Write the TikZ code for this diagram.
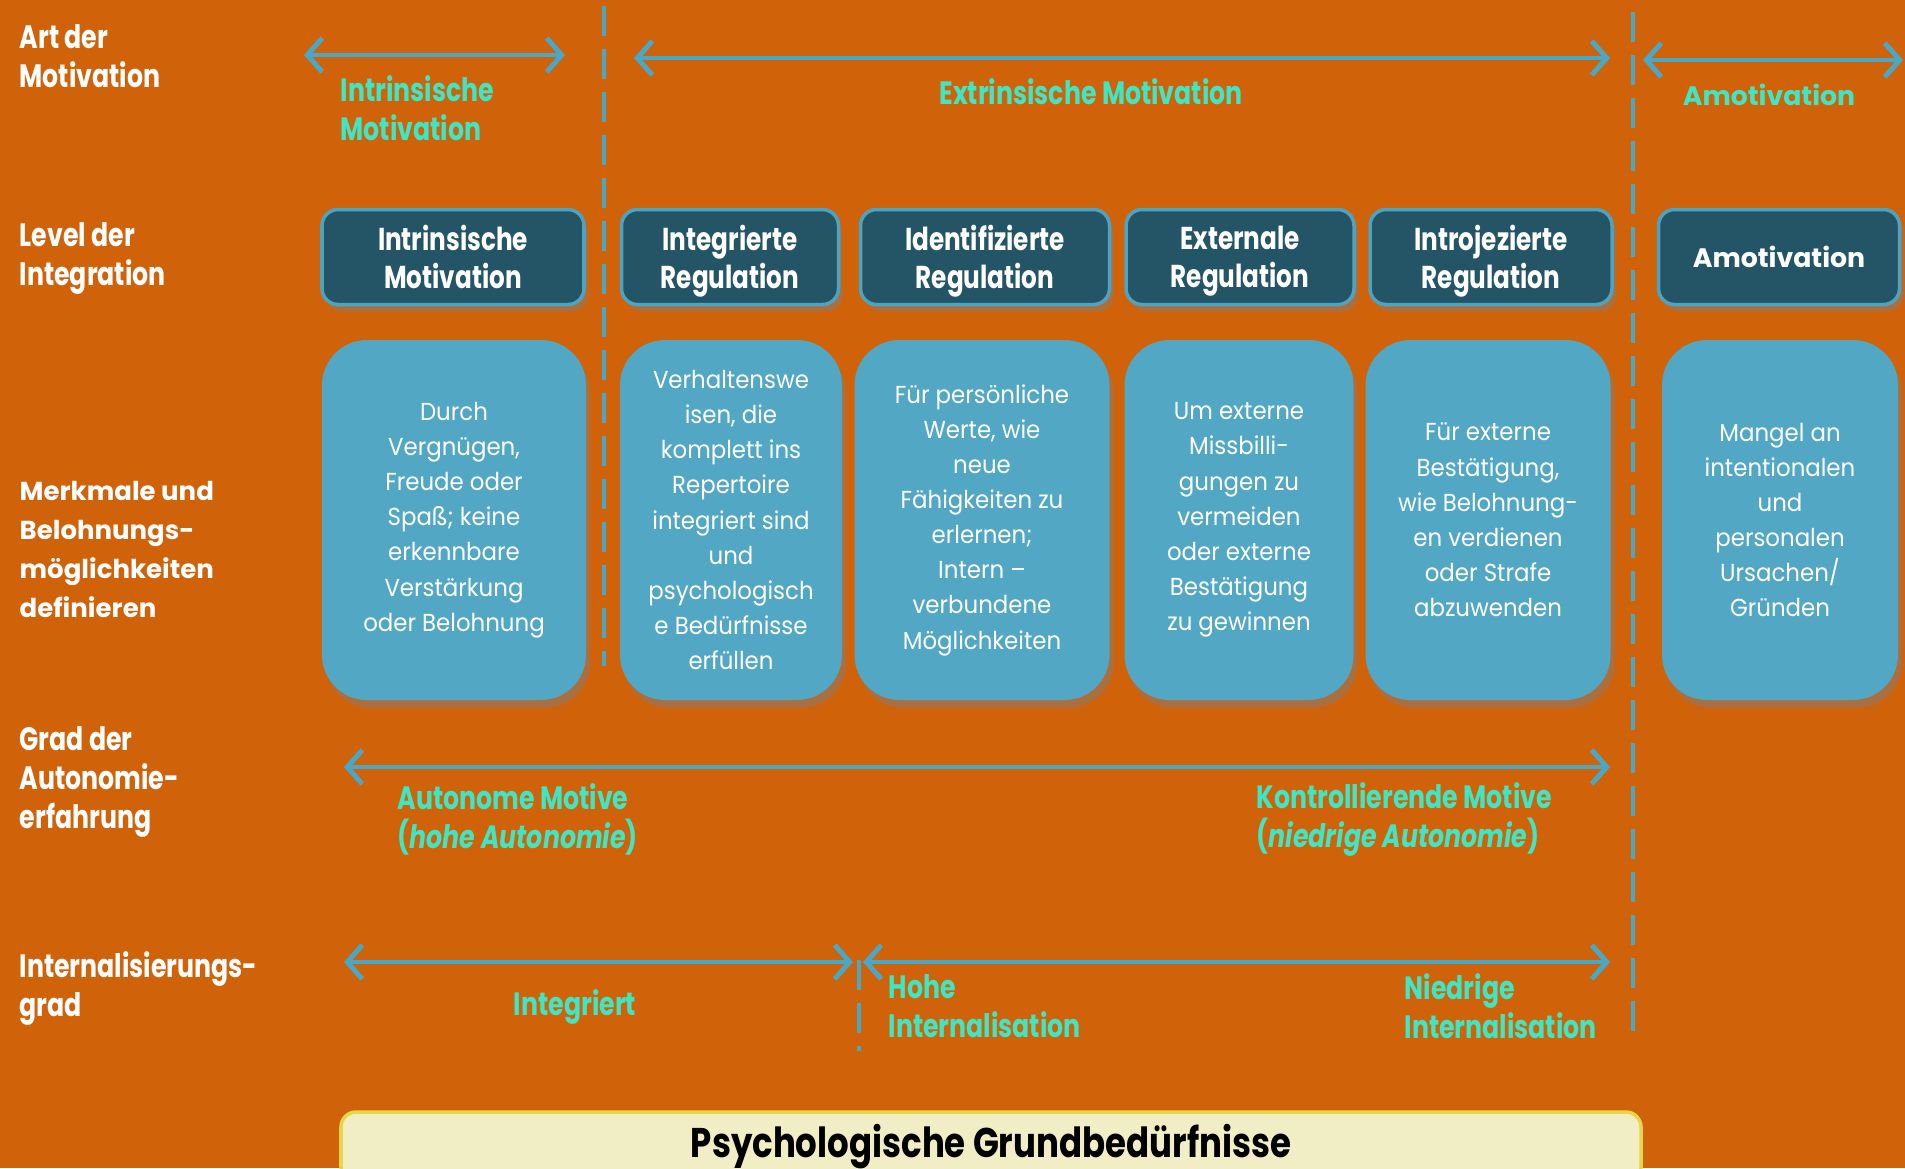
\documentclass[tikz,border=0pt]{standalone}
\usepackage{fontspec}
\setmainfont{Poppins}
\newfontfamily\condfont[FakeStretch=0.78]{Poppins}
\newfontfamily\titlefont[FakeStretch=0.82]{Poppins}
\newfontfamily\cardfont[FakeStretch=0.93]{Poppins}
\usetikzlibrary{arrows.meta,positioning,shadows}
\definecolor{bgorange}{HTML}{D0620A}
\definecolor{darkbox}{HTML}{245566}
\definecolor{boxedge}{HTML}{4DA3C0}
\definecolor{cardblue}{HTML}{52A7C4}
\definecolor{arrowc}{HTML}{4AA8C7}
\definecolor{grnc}{HTML}{3EE6C4}
\definecolor{cream}{HTML}{F1EDC4}
\definecolor{creamedge}{HTML}{E6D64C}

\begin{document}
\begin{tikzpicture}[x=1cm,y=1cm,font=\small,>={Straight Barb[length=1.5mm,width=3.4mm]},
  rowlbl/.style={anchor=west,align=left,inner sep=0pt,text=white,
    font=\condfont\bfseries\fontsize{9.2}{11.1}\selectfont},
  grn/.style={inner sep=0pt,text=grnc,align=left,
    font=\condfont\bfseries\fontsize{9.2}{11.1}\selectfont},
  lvl/.style={draw=boxedge,line width=1pt,fill=darkbox,rounded corners=1.6mm,
    text=white,align=center,minimum height=0.95cm,inner sep=0pt,
    drop shadow={shadow xshift=0.4mm,shadow yshift=-0.7mm,opacity=0.45},
    font=\condfont\bfseries\fontsize{9}{10.8}\selectfont},
  card/.style={fill=cardblue,rounded corners=4.5mm,text=white,align=center,
    minimum height=3.6cm,inner sep=0pt,
    drop shadow={shadow xshift=0.4mm,shadow yshift=-0.8mm,opacity=0.45},
    font=\cardfont\fontsize{7}{10}\selectfont},
  spanarrow/.style={<->,draw=arrowc,line width=1.4pt},
  divider/.style={draw=arrowc,line width=0.9pt,dash pattern=on 3mm off 1.3mm}]
 \fill[bgorange] (0,0) rectangle (19.05,-11.68);
 \clip (0,0) rectangle (19.05,-11.68);

 % left column
 \node[rowlbl] (art) at (0.19,-0.56) {Art der\\Motivation};
 \node[rowlbl] (level) at (0.19,-2.58) {Level der\\Integration};
 \node[rowlbl,font=\bfseries\fontsize{7.4}{11.1}\selectfont] (merk) at (0.19,-5.49)
   {Merkmale und\\Belohnungs-\\möglichkeiten\\definieren};
 \node[rowlbl] (grad) at (0.19,-7.82) {Grad der\\Autonomie-\\erfahrung};
 \node[rowlbl] (intgrad) at (0.19,-9.88) {Internalisierungs-\\grad};

 % dividers
 \coordinate (d1a) at (6.04,-0.06);
 \coordinate (d1b) at (6.04,-6.66);
 \coordinate (d2a) at (16.33,-0.12);
 \coordinate (d2b) at (16.33,-10.39);
 \coordinate (d3a) at (8.59,-9.60);
 \coordinate (d3b) at (8.59,-10.51);
 \draw[divider] (d1a)--(d1b);
 \draw[divider] (d2a)--(d2b);
 \draw[divider] (d3a)--(d3b);

 % art der motivation
 \coordinate (intL) at (3.04,-0.55);
 \coordinate (intR) at (5.65,-0.55);
 \coordinate (extL) at (6.34,-0.58);
 \coordinate (extR) at (16.10,-0.58);
 \coordinate (amoL) at (16.43,-0.60);
 \coordinate (amoR) at (19.03,-0.60);
 \draw[spanarrow] (intL)--(intR);
 \draw[spanarrow] (extL)--(extR);
 \draw[spanarrow] (amoL)--(amoR);
 \node[grn,anchor=west] (intlbl) at (3.40,-1.08) {Intrinsische\\Motivation};
 \node[grn] (extlbl) at (10.91,-0.92) {Extrinsische Motivation};
 \node[grn,font=\bfseries\fontsize{7.6}{10}\selectfont] (amolbl) at (17.69,-0.95) {Amotivation};

 % level der integration
 \foreach \nm/\cx/\w/\ta/\tb in {h1/4.53/2.62/Intrinsische/Motivation,
     h2/7.30/2.17/Integrierte/Regulation,
     h3/9.85/2.49/Identifizierte/Regulation,
     h4/12.40/2.28/Externale/Regulation,
     h5/14.91/2.42/Introjezierte/Regulation}
   \node[lvl,minimum width=\w cm] (\nm) at (\cx,-2.57)
     {\ta\\\raisebox{0pt}[\height][0pt]{\tb}};
 \node[lvl,minimum width=2.41cm,font=\bfseries\fontsize{7.6}{10}\selectfont] (h6) at (17.79,-2.57) {Amotivation};

 % merkmale
 \foreach \nm/\cx/\w/\txt in {c1/4.54/2.64/{Durch\\Vergnügen,\\Freude oder\\Spaß; keine\\erkennbare\\Verstärkung\\oder Belohnung},
     c2/7.31/2.22/{Verhaltenswe\\isen, die\\komplett ins\\Repertoire\\integriert sind\\und\\psychologisch\\e Bedürfnisse\\erfüllen},
     c3/9.82/2.55/{Für persönliche\\Werte, wie\\neue\\Fähigkeiten zu\\erlernen;\\Intern –\\verbundene\\Möglichkeiten},
     c4/12.39/2.29/{Um externe\\Missbilli-\\gungen zu\\vermeiden\\oder externe\\Bestätigung\\zu gewinnen},
     c5/14.88/2.45/{Für externe\\Bestätigung,\\wie Belohnung-\\en verdienen\\oder Strafe\\abzuwenden},
     c6/17.80/2.36/{Mangel an\\intentionalen\\und\\personalen\\Ursachen/\\Gründen}}
   \node[card,minimum width=\w cm] (\nm) at (\cx,-5.20) {\txt};

 % autonomie
 \coordinate (autL) at (3.44,-7.67);
 \coordinate (autR) at (16.10,-7.67);
 \draw[spanarrow] (autL)--(autR);
 \node[grn,anchor=west] (autlbl) at (3.97,-8.19) {Autonome Motive\\(\textit{hohe Autonomie})};
 \node[grn,anchor=west] (kontlbl) at (12.56,-8.19) {Kontrollierende Motive\\(\textit{niedrige Autonomie})};

 % internalisierung
 \coordinate (inaL) at (3.44,-9.62);
 \coordinate (inaR) at (8.53,-9.62);
 \coordinate (inbL) at (8.63,-9.62);
 \coordinate (inbR) at (16.10,-9.62);
 \draw[spanarrow] (inaL)--(inaR);
 \draw[spanarrow] (inbL)--(inbR);
 \node[grn] (integlbl) at (5.75,-10.07) {Integriert};
 \node[grn,anchor=west] (hohelbl) at (8.88,-10.06) {Hohe\\Internalisation};
 \node[grn,anchor=west] (niedlbl) at (14.04,-10.06) {Niedrige\\Internalisation};

 % grundbeduerfnisse
 \node[draw=creamedge,line width=1pt,fill=cream,rounded corners=1.5mm,
   minimum width=13cm,minimum height=0.70cm,inner sep=0pt,
   font=\titlefont\bfseries\fontsize{11.8}{13}\selectfont] (psy) at (9.91,-11.47)
   {Psychologische Grundbedürfnisse};
\end{tikzpicture}
\end{document}
